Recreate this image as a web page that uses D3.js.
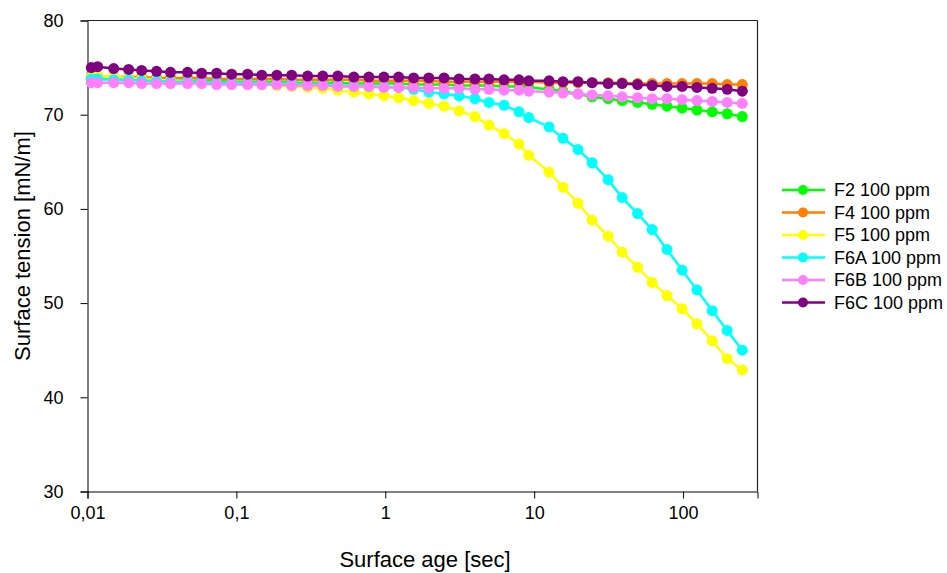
<!DOCTYPE html>
<html>
<head>
<meta charset="utf-8">
<script src="https://cdn.jsdelivr.net/npm/d3@7"></script>
<style>
  html, body { margin: 0; padding: 0; background: #fff; }
  svg text { font-family: "Liberation Sans", Arial, sans-serif; fill: #000; }
</style>
</head>
<body>
<svg id="chart" width="947" height="573"></svg>
<script>
// ---- data ----
const ages = [0.0106, 0.0117, 0.015, 0.0189, 0.0231, 0.0291, 0.0361, 0.047, 0.0584, 0.0737,
              0.0929, 0.119, 0.148, 0.187, 0.235, 0.301, 0.38, 0.48, 0.615, 0.776,
              0.979, 1.23, 1.55, 1.96, 2.48, 3.13, 4.0, 4.97, 6.28, 7.91,
              9.2, 12.6, 15.6, 19.7, 24.5, 31.4, 39, 49.5, 62, 78,
              98.6, 124, 157, 198, 250];

const seriesNames = ["F2 100 ppm", "F4 100 ppm", "F5 100 ppm", "F6A 100 ppm", "F6B 100 ppm", "F6C 100 ppm"];
const seriesColors = ["#00ff00", "#ff8000", "#ffff00", "#00ffff", "#ff80ff", "#800080"];

const f2 = [73.8, 73.8, 73.8, 73.7, 73.7, 73.7, 73.6, 73.6, 73.6, 73.6,
            73.5, 73.5, 73.5, 73.5, 73.4, 73.4, 73.4, 73.4, 73.3, 73.3,
            73.3, 73.3, 73.2, 73.2, 73.2, 73.1, 73.1, 73.1, 73.0, 73.0,
            72.9, 72.7, 72.5, 72.2, 71.9, 71.7, 71.5, 71.3, 71.1, 70.9,
            70.7, 70.5, 70.3, 70.1, 69.8];
const f4 = [74.1, 74.1, 74.0, 74.0, 74.0, 73.9, 73.9, 73.9, 73.9, 73.8,
            73.8, 73.8, 73.8, 73.8, 73.7, 73.7, 73.7, 73.7, 73.7, 73.6,
            73.6, 73.6, 73.6, 73.6, 73.5, 73.5, 73.5, 73.5, 73.5, 73.5,
            73.5, 73.4, 73.4, 73.4, 73.4, 73.4, 73.4, 73.3, 73.3, 73.3,
            73.3, 73.3, 73.3, 73.2, 73.2];
const f5 = [74.0, 74.1, 74.0, 73.9, 73.8, 73.7, 73.6, 73.5, 73.4, 73.3,
            73.3, 73.2, 73.2, 73.1, 73.0, 72.9, 72.8, 72.6, 72.4, 72.2,
            72.0, 71.8, 71.5, 71.2, 70.9, 70.4, 69.8, 68.9, 68.0, 66.9,
            65.7, 63.9, 62.3, 60.6, 58.8, 57.1, 55.4, 53.8, 52.2, 50.8,
            49.4, 47.8, 46.0, 44.1, 42.9];
const f6a = [73.8, 73.8, 73.7, 73.7, 73.6, 73.6, 73.5, 73.5, 73.5, 73.4,
             73.4, 73.4, 73.3, 73.3, 73.3, 73.2, 73.2, 73.1, 73.1, 73.0,
             73.0, 72.9, 72.7, 72.4, 72.2, 72.0, 71.7, 71.3, 71.0, 70.3,
             69.7, 68.7, 67.5, 66.3, 64.9, 63.1, 61.2, 59.5, 57.8, 55.7,
             53.5, 51.4, 49.2, 47.1, 45.0];
const f6b = [73.4, 73.4, 73.4, 73.4, 73.3, 73.3, 73.3, 73.3, 73.3, 73.2,
             73.2, 73.2, 73.2, 73.2, 73.1, 73.1, 73.1, 73.0, 73.0, 73.0,
             72.9, 72.9, 72.9, 72.8, 72.8, 72.8, 72.7, 72.7, 72.6, 72.6,
             72.5, 72.4, 72.3, 72.2, 72.1, 72.0, 71.9, 71.8, 71.7, 71.7,
             71.6, 71.5, 71.4, 71.3, 71.2];
const f6c = [75.0, 75.1, 74.9, 74.8, 74.7, 74.6, 74.5, 74.5, 74.4, 74.4,
             74.3, 74.3, 74.2, 74.2, 74.2, 74.1, 74.1, 74.1, 74.0, 74.0,
             74.0, 74.0, 73.9, 73.9, 73.9, 73.8, 73.8, 73.8, 73.7, 73.7,
             73.6, 73.6, 73.5, 73.5, 73.4, 73.3, 73.3, 73.2, 73.1, 73.0,
             73.0, 72.9, 72.8, 72.7, 72.5];
const seriesValues = [f2, f4, f5, f6a, f6b, f6c];

const xTicks = [0.01, 0.1, 1, 10, 100];
const xTickLabels = ["0,01", "0,1", "1", "10", "100"];
const yTicks = [30, 40, 50, 60, 70, 80];

// ---- layout ----
const svg = d3.select("#chart");
const plotL = 87.5, plotR = 757.5, plotT = 20.5, plotB = 491.5;

const x = d3.scaleLog().domain([0.01, Math.pow(10, 2.5)]).range([plotL, plotR]);
const y = d3.scaleLinear().domain([30, 80]).range([plotB, plotT]);

// frame (top and right)
svg.append("line").attr("x1", plotL).attr("x2", plotR).attr("y1", plotT).attr("y2", plotT)
  .attr("stroke", "#222").attr("stroke-width", 1.2);
svg.append("line").attr("x1", plotR).attr("x2", plotR).attr("y1", plotT).attr("y2", plotB)
  .attr("stroke", "#222").attr("stroke-width", 1.2);

// axes
const xAxis = d3.axisBottom(x).tickValues(xTicks)
  .tickFormat((d, i) => xTickLabels[i]).tickSizeOuter(0).tickSize(7).tickPadding(8);
const gx = svg.append("g").attr("transform", `translate(0,${plotB})`).call(xAxis);
gx.selectAll("text").style("font-size", "18px");

const yAxis = d3.axisLeft(y).tickValues(yTicks).tickSizeOuter(0).tickSize(7).tickPadding(17);
const gy = svg.append("g").attr("transform", `translate(${plotL},0)`).call(yAxis);
gy.selectAll("text").style("font-size", "18px");

// axis titles
svg.append("text").attr("x", 425).attr("y", 567).attr("text-anchor", "middle")
  .style("font-size", "22px").text("Surface age [sec]");
svg.append("text").attr("transform", "translate(30,246) rotate(-90)")
  .attr("text-anchor", "middle").style("font-size", "22px").text("Surface tension [mN/m]");

// series
const lineGen = d3.line().x(d => x(d[0])).y(d => y(d[1]));
seriesValues.forEach((vals, si) => {
  const pts = ages.map((t, i) => [t, vals[i]]);
  const g = svg.append("g");
  g.append("path").datum(pts).attr("d", lineGen)
    .attr("fill", "none").attr("stroke", seriesColors[si]).attr("stroke-width", 2.5);
  g.selectAll("circle").data(pts).enter().append("circle")
    .attr("cx", d => x(d[0])).attr("cy", d => y(d[1])).attr("r", 5.5)
    .attr("fill", seriesColors[si]);
});

// legend
const legend = svg.append("g");
seriesNames.forEach((name, i) => {
  const ly = 190 + i * 22.5;
  legend.append("line").attr("x1", 782).attr("x2", 825).attr("y1", ly).attr("y2", ly)
    .attr("stroke", seriesColors[i]).attr("stroke-width", 2.5);
  legend.append("circle").attr("cx", 803).attr("cy", ly).attr("r", 5)
    .attr("fill", seriesColors[i]);
  legend.append("text").attr("x", 834).attr("y", ly).attr("dy", "0.35em")
    .style("font-size", "18px").text(name);
});
</script>
</body>
</html>
